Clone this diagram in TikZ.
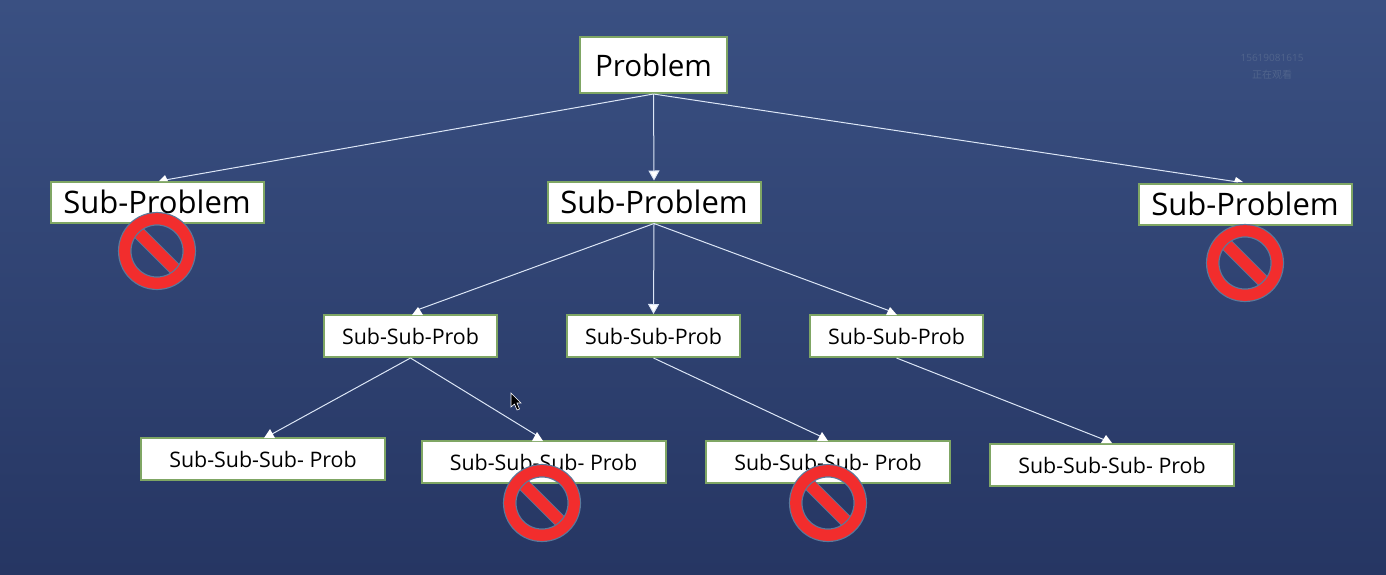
\documentclass[tikz,border=0pt]{standalone}
\usepackage{fontspec}
\setmainfont{Open Sans}
\newfontfamily\cjkfont{Noto Sans CJK SC}
\usetikzlibrary{arrows.meta,calc}
\definecolor{bgtop}{HTML}{3A5082}
\definecolor{bgbottom}{HTML}{263663}
\definecolor{boxgreen}{HTML}{7FA664}
\definecolor{banred}{HTML}{F22D2D}
\definecolor{banedge}{HTML}{5A7A9C}
\definecolor{markgray}{HTML}{50648C}
\definecolor{linkwhite}{HTML}{DCE6F6}
\tikzset{
  probbox/.style={draw=boxgreen,fill=white,line width=1pt,inner sep=0pt,text=black},
  topbox/.style={probbox,minimum width=73.5pt,minimum height=28pt,font=\fontsize{14.8}{18}\selectfont},
  subbox/.style={probbox,minimum width=106.5pt,minimum height=20.5pt,font=\fontsize{15.5}{18}\selectfont},
  ssbox/.style={probbox,minimum width=86.5pt,minimum height=21pt,font=\fontsize{10.7}{12}\selectfont},
  sssbox/.style={probbox,minimum width=122pt,minimum height=21pt,font=\fontsize{10.7}{12}\selectfont},
  link/.style={draw=linkwhite,line width=0.5pt},
  downlink/.style={link,-{Triangle[width=5.5pt,length=5pt,fill=white]}},
  tipfill/.style={fill=white},
  banhole/.style={circle,minimum size=32.25pt,inner sep=0pt,outer sep=0pt},
  banring/.style={banhole,draw=banedge,line width=0.6pt,double=banred,double distance=5.6pt},
  banslash/.style={draw=banedge,line width=0.4pt,double=banred,double distance=5.8pt},
  watermark/.style={text=markgray,font=\fontsize{5}{6}\selectfont},
}
\newcommand{\banmark}[2]{%
  \node[banhole] (#1) at (#2) {};
  \draw[banslash] (#1.135) -- (#1.-45);
  \node[banring] (#1ring) at (#2) {};
}
\begin{document}
\begin{tikzpicture}[x=0.5pt,y=-0.5pt]
\useasboundingbox (0,0) rectangle (1386,574);
\shade[top color=bgtop,bottom color=bgbottom] (0,0) rectangle (1386,574);
% boxes
\node[topbox] (problem) at (653.5,65) {Problem};
\node[subbox] (subleft) at (157,202) {Sub-Problem};
\node[subbox] (submid) at (654,202) {Sub-Problem};
\node[subbox] (subright) at (1245,204) {Sub-Problem};
\node[ssbox] (ssleft) at (410.5,336) {Sub-Sub-Prob};
\node[ssbox] (ssmid) at (653.5,336) {Sub-Sub-Prob};
\node[ssbox] (ssright) at (896.5,336) {Sub-Sub-Prob};
\node[sssbox] (sssa) at (263,459) {Sub-Sub-Sub- Prob};
\node[sssbox] (sssb) at (543.5,462) {Sub-Sub-Sub- Prob};
\node[sssbox] (sssc) at (828,462) {Sub-Sub-Sub- Prob};
\node[sssbox] (sssd) at (1112,465) {Sub-Sub-Sub- Prob};
% where the slanted connectors stop
\coordinate (endsubleft) at (165,180);
\coordinate (endsubright) at (1238,182);
\coordinate (endssleft) at (417,310);
\coordinate (endssright) at (890,311);
\coordinate (endsssa) at (272,434);
\coordinate (endsssb) at (536,435);
\coordinate (endsssc) at (822,437);
\coordinate (endsssd) at (1105,440);
% connectors
\draw[link] (problem.south) -- (endsubleft);
\draw[downlink] (problem.south) -- (submid.north);
\draw[link] (problem.south) -- (endsubright);
\draw[link] (submid.south) -- (endssleft);
\draw[downlink] (submid.south) -- (ssmid.north);
\draw[link] (submid.south) -- (endssright);
\draw[link] (ssleft.south) -- (endsssa);
\draw[link] (ssleft.south) -- (endsssb);
\draw[link] (ssmid.south) -- (endsssc);
\draw[link] (ssright.south) -- (endsssd);
% tips sitting on the boxes
\fill[tipfill] (159,181) -- (165,175) -- (168,181) -- cycle;
\fill[tipfill] (1234,182) -- (1236,177) -- (1243,182) -- cycle;
\fill[tipfill] (412,315) -- (418,307) -- (423,315) -- cycle;
\fill[tipfill] (886,315) -- (890,307) -- (897,315) -- cycle;
\fill[tipfill] (264,438) -- (270,429) -- (275,438) -- cycle;
\fill[tipfill] (532,441) -- (537,432) -- (543,441) -- cycle;
\fill[tipfill] (817,441) -- (822,432) -- (828,441) -- cycle;
\fill[tipfill] (1101,443) -- (1106,435) -- (1112,443) -- cycle;
% stop signs
\banmark{banleft}{157,251}
\banmark{banright}{1245,263}
\banmark{banb}{542,503}
\banmark{banc}{828,503}
% pointer
\draw[fill=black,draw=white,line width=0.3pt] (511,393) -- (511,407) -- (514.5,404) -- (517,410) -- (519.5,409) -- (517,403) -- (521,403) -- cycle;
% watermark
\node[watermark] (markid) at (1272,58) {15619081615};
\node[watermark] (marktext) at (1272,75) {\cjkfont 正在观看};
\end{tikzpicture}
\end{document}
